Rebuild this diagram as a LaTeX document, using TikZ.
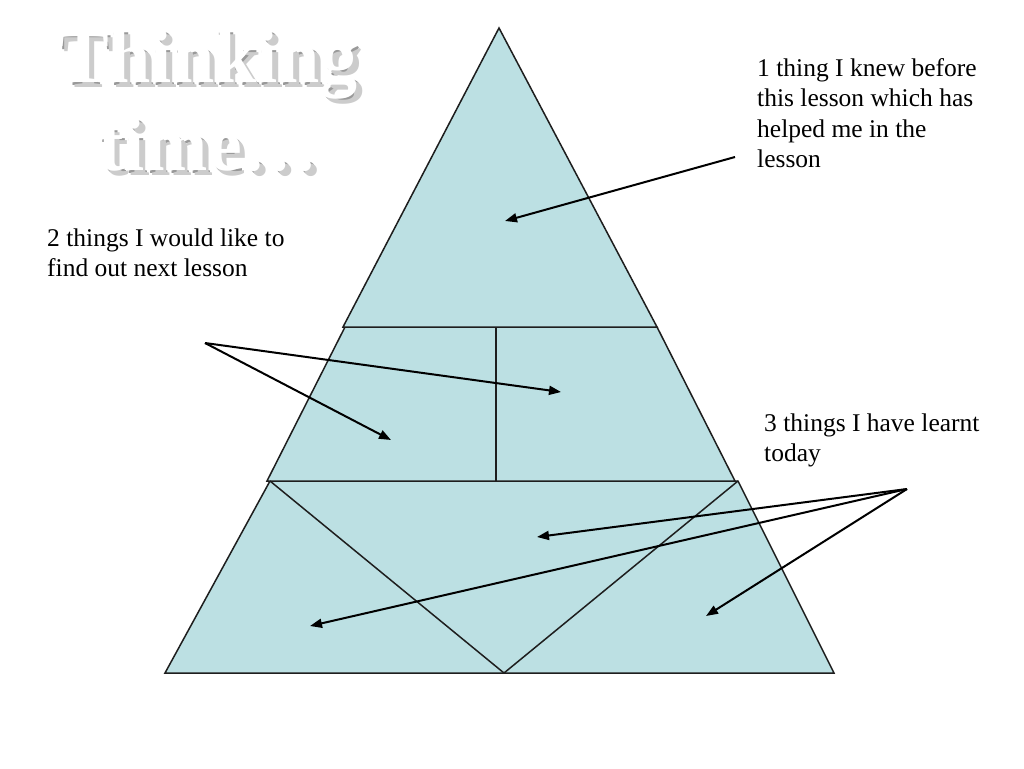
\documentclass[tikz,border=0pt]{standalone}
\usepackage{fontspec}
\setmainfont{Liberation Serif}
\usetikzlibrary{arrows.meta}
\definecolor{pyr}{HTML}{BCE0E3}
\definecolor{edge}{HTML}{1E1E1E}
\tikzset{
  part/.style={fill=pyr,draw=edge,line width=1.5pt,line join=miter},
  divider/.style={draw=edge,line width=1.5pt},
  pointer/.style={draw=black,line width=2pt,-{Triangle[length=12pt,width=9pt]}},
  label/.style={font=\fontsize{25.5}{30.5}\selectfont,align=left,anchor=base west,inner sep=0pt},
  titletxt/.style={font=\fontsize{76}{88}\selectfont\bfseries,align=center,inner sep=0pt,anchor=base}
}
\begin{document}
\begin{tikzpicture}[x=1pt,y=-1pt]
\useasboundingbox (0,0) rectangle (1024,768);
\fill[white] (0,0) rectangle (1024,768);
% pyramid parts
\coordinate (apex) at (499,28);
\coordinate (tl) at (343,327); \coordinate (tr) at (657,327);
\coordinate (ml) at (345,327); \coordinate (mr) at (657,327);
\coordinate (mbl) at (267,481); \coordinate (mbr) at (735,481);
\coordinate (bl) at (270,481); \coordinate (br) at (738,481);
\coordinate (bbl) at (165,673); \coordinate (bbr) at (834,673);
\coordinate (vtip) at (504,673);
\coordinate (dtop) at (496,327); \coordinate (dbot) at (496,481);
\draw[part] (bl) -- (br) -- (bbr) -- (bbl) -- cycle;
\draw[part] (ml) -- (mr) -- (mbr) -- (mbl) -- cycle;
\draw[part] (apex) -- (tr) -- (tl) -- cycle;
\draw[divider] (dtop) -- (dbot);
\draw[divider] (bl) -- (vtip) -- (br);
% title
\node[titletxt,text=black!40] (titleshadow) at (211.5,173.5) {Thinking\\time\dots};
\node[titletxt,text=black!20] (titleshadow2) at (213.5,175.5) {Thinking\\time\dots};
\node[titletxt,text=white] (title) at (208,170) {Thinking\\time\dots};
% labels
\node[label] (t1) at (757,167.5) {1 thing I knew before\\this lesson which has\\helped me in the\\lesson};
\node[label] (t2) at (47,276.5) {2 things I would like to\\find out next lesson};
\node[label] (t3) at (764,461.5) {3 things I have learnt\\today};
% arrows
\coordinate (s1) at (735,157); \coordinate (e1) at (505,221);
\coordinate (s2) at (205,343); \coordinate (e2a) at (561,392); \coordinate (e2b) at (391,440);
\coordinate (s3) at (907,489); \coordinate (e3a) at (537,537); \coordinate (e3b) at (310,626); \coordinate (e3c) at (706,616);
\draw[pointer] (s1) -- (e1);
\draw[pointer] (s2) -- (e2a);
\draw[pointer] (s2) -- (e2b);
\draw[pointer] (s3) -- (e3a);
\draw[pointer] (s3) -- (e3b);
\draw[pointer] (s3) -- (e3c);
\end{tikzpicture}
\end{document}
